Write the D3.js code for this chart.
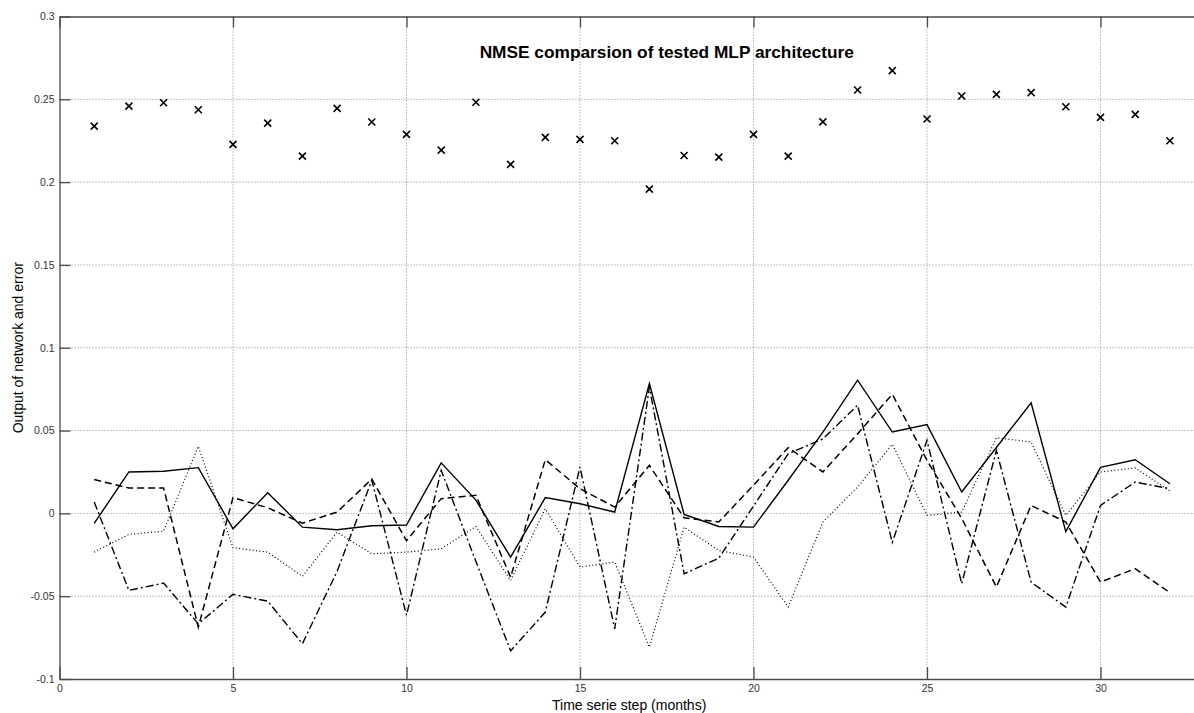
<!DOCTYPE html>
<meta charset="utf-8">
<style>
body { margin: 0; background: #fff; }
.grid line { stroke: #8a8a8a; stroke-width: 1px; stroke-dasharray: 1,2; }
.axis path, .axis line { stroke: #4a4a4a; stroke-width: 1.3px; }
.axis text { font-family: "Liberation Sans", Arial, sans-serif; font-size: 10.5px; fill: #333; }
.series { fill: none; stroke: #000; stroke-width: 1.4px; }
.mark { stroke: #000; stroke-width: 1.6px; fill: none; }
</style>
<body>
<script src="https://d3js.org/d3.v7.min.js"></script>
<script>

// time steps (months)
var steps = d3.range(1, 33);

// NMSE of each step (x markers)
var nmse = [0.2338, 0.2459, 0.2479, 0.2437, 0.2228, 0.2356, 0.2157, 0.2445, 0.2363, 0.2288,
            0.2193, 0.2482, 0.2107, 0.2270, 0.2258, 0.2250, 0.1958, 0.2161, 0.2151, 0.2288,
            0.2157, 0.2364, 0.2556, 0.2673, 0.2381, 0.2520, 0.2530, 0.2540, 0.2455, 0.2391,
            0.2409, 0.2250];

var solidVals = [-0.0060, 0.0250, 0.0254, 0.0276, -0.0093, 0.0125, -0.0083, -0.0099, -0.0075, -0.0070,
                 0.0305, 0.0080, -0.0264, 0.0095, 0.0058, 0.0008, 0.0784, -0.0006, -0.0079, -0.0083,
                 0.0200, 0.0490, 0.0804, 0.0491, 0.0536, 0.0129, 0.0398, 0.0667, -0.0110, 0.0278,
                 0.0324, 0.0179];

var dashedVals = [0.0204, 0.0153, 0.0153, -0.0687, 0.0095, 0.0034, -0.0059, 0.0008, 0.0207, -0.0165,
                  0.0089, 0.0109, -0.0385, 0.0324, 0.0149, 0.0038, 0.0290, -0.0027, -0.0052, 0.0170,
                  0.0397, 0.0250, 0.0480, 0.0719, 0.0320, -0.0030, -0.0445, 0.0048, -0.0052, -0.0415,
                  -0.0334, -0.0478];

var dashDotVals = [0.0068, -0.0465, -0.0421, -0.0667, -0.0489, -0.0530, -0.0787, -0.0350, 0.0200, -0.0615,
                   0.0260, -0.0290, -0.0830, -0.0596, 0.0280, -0.0697, 0.0763, -0.0365, -0.0270, 0.0044,
                   0.0360, 0.0450, 0.0653, -0.0175, 0.0441, -0.0425, 0.0380, -0.0415, -0.0566, 0.0048,
                   0.0189, 0.0149];

var dottedVals = [-0.0234, -0.0127, -0.0107, 0.0405, -0.0207, -0.0234, -0.0380, -0.0113, -0.0244, -0.0234,
                  -0.0214, -0.0079, -0.0405, 0.0028, -0.0324, -0.0294, -0.0808, -0.0083, -0.0224, -0.0264,
                  -0.0566, -0.0052, 0.0159, 0.0417, -0.0012, 0.0008, 0.0457, 0.0431, -0.0012, 0.0250,
                  0.0274, 0.0135];

var xTicks = [0, 5, 10, 15, 20, 25, 30];
var yTicks = [-0.1, -0.05, 0, 0.05, 0.1, 0.15, 0.2, 0.25, 0.3];

// note: "top" is taken by window.top, so margins get their own names
var width = 1194,
    height = 713,
    padLeft = 59.5,
    padTop = 16.5,
    plotW = 1214.5,   // axes run past the right edge of the window
    plotH = 662.5;

var svg = d3.select("body").append("svg")
    .attr("width", width)
    .attr("height", height);

var x = d3.scaleLinear().domain([0, 35]).range([0, plotW]);
var y = d3.scaleLinear().domain([-0.1, 0.3]).range([plotH, 0]);

var g = svg.append("g").attr("transform", "translate(" + padLeft + "," + padTop + ")");

// dotted grid
var grid = g.append("g").attr("class", "grid");
grid.selectAll(".gx")
    .data(xTicks.slice(1))
    .enter().append("line")
    .attr("x1", function(d) { return x(d); })
    .attr("x2", function(d) { return x(d); })
    .attr("y1", 0)
    .attr("y2", plotH);
grid.selectAll(".gy")
    .data(yTicks.slice(1, -1))
    .enter().append("line")
    .attr("x1", 0)
    .attr("x2", plotW)
    .attr("y1", function(d) { return y(d); })
    .attr("y2", function(d) { return y(d); });

// axes (ticks pointing inward, like matlab)
g.append("g").attr("class", "axis")
    .attr("transform", "translate(0," + plotH + ")")
    .call(d3.axisBottom(x).tickValues(xTicks).tickSize(-12).tickSizeOuter(0).tickPadding(6)
        .tickFormat(d3.format("d")));
g.append("g").attr("class", "axis")
    .call(d3.axisTop(x).tickValues(xTicks).tickSize(-11).tickSizeOuter(0).tickFormat(""));
g.append("g").attr("class", "axis")
    .call(d3.axisLeft(y).tickValues(yTicks).tickSize(-11).tickSizeOuter(0).tickPadding(5)
        .tickFormat(function(d) { return +d.toFixed(2); }));
g.append("g").attr("class", "axis")
    .attr("transform", "translate(" + plotW + ",0)")
    .call(d3.axisRight(y).tickValues(yTicks).tickSize(-11).tickSizeOuter(0).tickFormat(""));

var line = d3.line()
    .x(function(d, i) { return x(steps[i]); })
    .y(function(d) { return y(d); });

var seriesList = [
    {vals: dottedVals,  dash: "1,2.4", w: 1.2},
    {vals: dashDotVals, dash: "8,3,2,3", w: 1.4},
    {vals: dashedVals,  dash: "7,4", w: 1.5},
    {vals: solidVals,   dash: null, w: 1.4}
];

g.selectAll(".series")
    .data(seriesList)
    .enter().append("path")
    .attr("class", "series")
    .attr("d", function(d) { return line(d.vals); })
    .style("stroke-width", function(d) { return d.w; })
    .style("stroke-dasharray", function(d) { return d.dash; });

g.selectAll(".mark")
    .data(nmse)
    .enter().append("path")
    .attr("class", "mark")
    .attr("transform", function(d, i) { return "translate(" + x(steps[i]) + "," + y(d) + ")"; })
    .attr("d", "M-3.5,-3.5L3.5,3.5M-3.5,3.5L3.5,-3.5");

// title and labels
svg.append("text")
    .attr("x", padLeft + plotW / 2)
    .attr("y", 58)
    .attr("text-anchor", "middle")
    .attr("font-family", "Liberation Sans, Arial, sans-serif")
    .attr("font-weight", "bold")
    .attr("font-size", 17.3)
    .text("NMSE comparsion of tested MLP architecture");

svg.append("text")
    .attr("x", 552)
    .attr("y", 710)
    .attr("font-family", "Liberation Sans, Arial, sans-serif")
    .attr("font-size", 14)
    .text("Time serie step (months)");

svg.append("text")
    .attr("transform", "translate(23," + (padTop + plotH / 2) + ") rotate(-90)")
    .attr("text-anchor", "middle")
    .attr("font-family", "Liberation Sans, Arial, sans-serif")
    .attr("font-size", 14)
    .text("Output of network and error");

</script>
